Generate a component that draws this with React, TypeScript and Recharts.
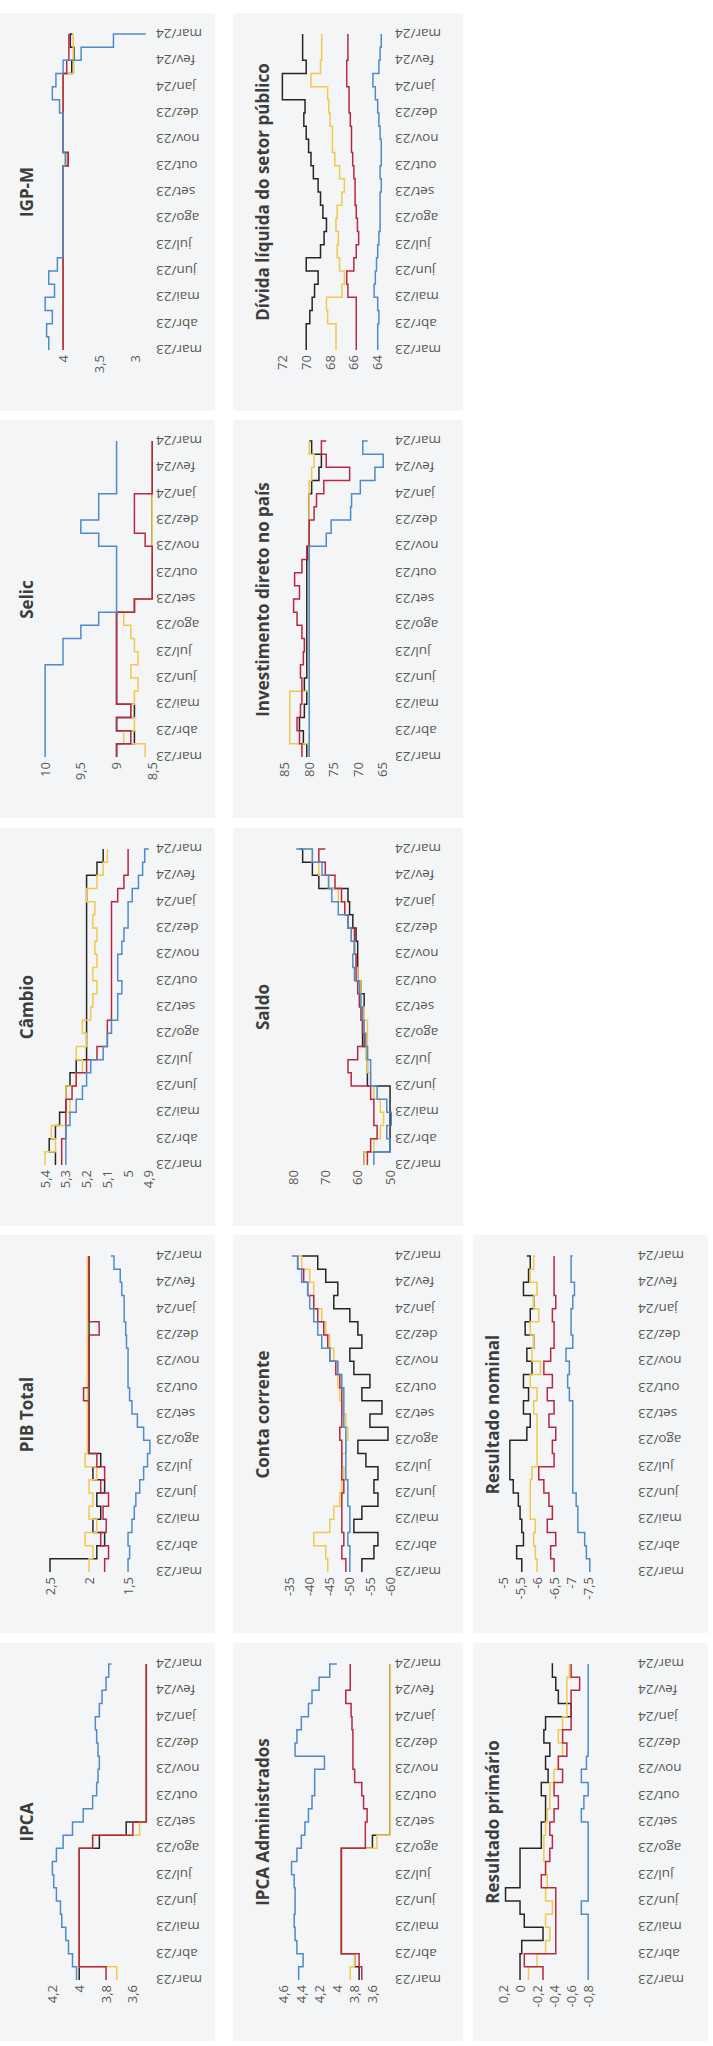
import React from "react";
import { LineChart, Line, XAxis, YAxis } from "recharts";

// rótulos do eixo do tempo (um a cada 2 pontos, pontos quinzenais)
const meses = ["mar/23", "abr/23", "mai/23", "jun/23", "jul/23", "ago/23", "set/23", "out/23", "nov/23", "dez/23", "jan/24", "fev/24", "mar/24"];

// IPCA
const ipcaPreto = [4.0, 4.0, 4.0, 4.0, 4.0, 4.0, 4.0, 4.0, 4.0, 4.0, 3.85, 3.65, 3.5, 3.5, 3.5, 3.5, 3.5, 3.5, 3.5, 3.5, 3.5, 3.5, 3.5, 3.5, 3.5];
const ipcaAmarelo = [3.72, 4.0, 4.0, 4.0, 4.0, 4.0, 4.0, 4.0, 4.0, 4.0, 3.9, 3.55, 3.5, 3.5, 3.5, 3.5, 3.5, 3.5, 3.5, 3.5, 3.5, 3.5, 3.5, 3.5, 3.5];
const ipcaVermelho = [3.8, 4.0, 4.0, 4.0, 4.0, 4.0, 4.0, 4.0, 4.0, 4.0, 3.9, 3.6, 3.5, 3.5, 3.5, 3.5, 3.5, 3.5, 3.5, 3.5, 3.5, 3.5, 3.5, 3.5, 3.5];
const ipcaAzul = [4.02, 4.05, 4.08, 4.1, 4.13, 4.14, 4.17, 4.19, 4.2, 4.17, 4.12, 4.05, 3.97, 3.9, 3.87, 3.86, 3.85, 3.86, 3.87, 3.88, 3.85, 3.83, 3.8, 3.78, 3.76];

// PIB Total
const pibPreto = [2.5, 1.9, 1.8, 1.95, 1.85, 1.9, 1.8, 1.95, 1.85, 2.0, 2.0, 2.0, 2.0, 2.0, 2.0, 2.0, 2.0, 2.0, 2.0, 2.0, 2.0, 2.0, 2.0, 2.0, 2.0];
const pibAmarelo = [2.0, 1.95, 2.05, 1.9, 2.0, 1.95, 2.0, 1.9, 2.05, 2.02, 2.02, 2.02, 2.02, 2.02, 2.02, 2.02, 2.02, 2.02, 2.02, 2.02, 2.02, 2.02, 2.02, 2.02, 2.02];
const pibVermelho = [1.8, 1.75, 1.85, 1.78, 1.82, 1.75, 1.85, 1.8, 1.9, 2.0, 2.0, 2.0, 2.0, 2.07, 2.0, 2.0, 2.0, 2.0, 1.87, 2.0, 2.0, 2.0, 2.0, 2.0, 2.0];
const pibAzul = [1.5, 1.48, 1.5, 1.45, 1.42, 1.4, 1.35, 1.3, 1.25, 1.22, 1.3, 1.38, 1.45, 1.48, 1.5, 1.5, 1.5, 1.52, 1.53, 1.55, 1.55, 1.58, 1.6, 1.68, 1.72];

// Câmbio
const cambioPreto = [5.35, 5.38, 5.35, 5.33, 5.3, 5.3, 5.28, 5.25, 5.2, 5.2, 5.2, 5.2, 5.2, 5.2, 5.2, 5.2, 5.2, 5.2, 5.2, 5.2, 5.2, 5.2, 5.15, 5.12, 5.12];
const cambioAmarelo = [5.4, 5.35, 5.37, 5.3, 5.28, 5.3, 5.25, 5.22, 5.25, 5.2, 5.22, 5.18, 5.17, 5.15, 5.17, 5.15, 5.16, 5.15, 5.17, 5.16, 5.2, 5.15, 5.12, 5.1, 5.1];
const cambioVermelho = [5.32, 5.32, 5.3, 5.3, 5.3, 5.27, 5.25, 5.2, 5.15, 5.1, 5.1, 5.08, 5.08, 5.08, 5.08, 5.08, 5.08, 5.08, 5.08, 5.08, 5.05, 5.02, 5.0, 5.0, 5.0];
const cambioAzul = [5.3, 5.3, 5.3, 5.28, 5.25, 5.22, 5.2, 5.18, 5.12, 5.1, 5.08, 5.05, 5.05, 5.03, 5.05, 5.05, 5.03, 5.02, 5.0, 5.0, 4.98, 4.95, 4.93, 4.92, 4.9];

// Selic
const selicPreto = [9.0, 8.75, 9.0, 8.75, 9.0, 9.0, 9.0, 9.0, 9.0, 9.0, 9.0, 8.75, 8.5, 8.5, 8.5, 8.5, 8.5, 8.5, 8.5, 8.5, 8.5, 8.5, 8.5, 8.5, 8.5];
const selicAmarelo = [8.6, 8.9, 8.75, 8.8, 8.75, 8.7, 8.8, 8.7, 8.75, 8.8, 8.9, 8.75, 8.5, 8.5, 8.5, 8.5, 8.5, 8.5, 8.5, 8.5, 8.5, 8.5, 8.5, 8.5, 8.5];
const selicVermelho = [9.0, 8.8, 9.0, 8.8, 9.0, 9.0, 9.0, 9.0, 9.0, 9.0, 9.0, 8.75, 8.5, 8.5, 8.5, 8.5, 8.6, 8.75, 8.75, 8.75, 8.5, 8.5, 8.5, 8.5, 8.5];
const selicAzul = [10, 10, 10, 10, 10, 10, 10, 9.75, 9.75, 9.5, 9.25, 9.0, 9.0, 9.0, 9.0, 9.0, 9.25, 9.5, 9.25, 9.25, 9.0, 9.0, 9.0, 9.0, 9.0];

// IGP-M
const igpmPreto = [4, 4, 4, 4, 4, 4, 4, 4, 4, 4, 4, 4, 4, 4, 3.93, 4, 4, 4, 4, 4, 4, 3.88, 3.85, 3.9, 3.87];
const igpmAmarelo = [4, 4, 4, 4, 4, 4, 4, 4, 4, 4, 4, 4, 4, 4, 3.95, 4, 4, 4, 4, 4, 4, 3.85, 3.86, 3.86, 3.86];
const igpmVermelho = [4, 4, 4, 4, 4, 4, 4, 4, 4, 4, 4, 4, 4, 4, 3.93, 4, 4, 4, 4, 4, 4, 3.95, 3.92, 3.92, 3.92];
const igpmAzul = [4.2, 4.23, 4.15, 4.25, 4.12, 4.2, 4.08, 4.0, 4.0, 4.0, 4.0, 4.0, 4.0, 4.0, 3.97, 4.0, 4.0, 4.0, 4.05, 4.15, 4.1, 4.0, 3.75, 3.3, 2.85];

// IPCA Administrados
const admPreto = [3.75, 3.8, 3.95, 3.95, 3.95, 3.95, 3.95, 3.95, 3.95, 3.95, 3.6, 3.4, 3.4, 3.4, 3.4, 3.4, 3.4, 3.4, 3.4, 3.4, 3.4, 3.4, 3.4, 3.4, 3.4];
const admAmarelo = [3.85, 3.8, 3.95, 3.95, 3.95, 3.95, 3.95, 3.95, 3.95, 3.95, 3.55, 3.4, 3.4, 3.4, 3.4, 3.4, 3.4, 3.4, 3.4, 3.4, 3.4, 3.4, 3.4, 3.4, 3.4];
const admVermelho = [3.72, 3.75, 3.95, 3.95, 3.95, 3.95, 3.95, 3.95, 3.95, 3.95, 3.68, 3.68, 3.66, 3.7, 3.72, 3.8, 3.82, 3.82, 3.82, 3.83, 3.84, 3.9, 3.85, 3.85, 3.85];
const admAzul = [4.43, 4.38, 4.45, 4.47, 4.48, 4.47, 4.47, 4.48, 4.51, 4.45, 4.4, 4.36, 4.32, 4.28, 4.25, 4.25, 4.14, 4.47, 4.45, 4.4, 4.32, 4.28, 4.2, 4.08, 4.0];

// Conta corrente
const contaPreto = [-53, -56, -57, -51, -53, -57, -56, -57, -54, -52, -59.5, -55, -58, -53, -55, -51, -50, -53, -52, -50, -46, -47, -44, -42, -38];
const contaAmarelo = [-44.5, -44, -41, -45, -46, -47.5, -48, -48.5, -48, -49, -49.5, -49, -48, -47.5, -47, -47, -46, -45, -44, -43, -41, -41, -40, -38, -37];
const contaVermelho = [-49, -48, -48.5, -48, -48, -48, -48.5, -48, -48, -48, -47.5, -48, -48, -48, -47.5, -46.5, -45, -44.5, -43.5, -42, -41, -39.5, -38.5, -37, -37];
const contaAzul = [-50, -50, -49.5, -50, -50, -49.5, -49.5, -49, -49, -49, -49, -48.5, -48.5, -48.5, -48, -47, -45, -43, -42, -41, -40, -39.5, -38, -37, -35.5];

// Saldo
const saldoPreto = [58, 50, 50, 50, 50, 50, 57, 57, 57, 58.5, 58.5, 58.5, 58, 59, 60, 60, 60, 60.5, 61.5, 62.5, 63, 72, 74, 77, 78];
const saldoAmarelo = [58, 55, 53, 52, 53, 55, 56, 57, 57.5, 57, 57, 58, 59, 59, 60, 60.5, 61, 62, 63, 64, 66, 69, 72, 74, 77];
const saldoVermelho = [57, 56, 54, 55, 55, 56, 62, 63, 60, 58, 58.5, 59, 59.5, 60, 60.5, 60.5, 61, 61, 63, 64, 65, 67, 70, 72, 70];
const saldoAzul = [55, 50, 51, 49.5, 51, 54, 56, 56, 57, 57.5, 58, 58.5, 59, 59.5, 61, 61.5, 61, 62, 63, 66, 68, 69, 71, 74, 79];

// Investimento direto no país
const invPreto = [80.5, 81.2, 82, 81, 80.5, 81, 80.5, 80.5, 80.5, 80.5, 80.5, 80.5, 80.5, 80.5, 80.5, 80.3, 80, 80, 80, 80, 79.5, 78, 77.5, 79.5, 80];
const invAmarelo = [80, 84, 84, 84, 84, 80, 80, 80, 80, 80, 80, 80, 80, 80, 80, 80, 80, 80, 80, 80, 80, 79.5, 79, 80, 80];
const invVermelho = [81.5, 82, 82.5, 81.8, 81.5, 81.5, 81.8, 81.2, 81, 81.5, 82.5, 83.2, 82, 83, 81.5, 80.5, 80, 80, 79, 78.5, 77, 71.7, 76.5, 77.5, 76.5];
const invAzul = [80, 80, 80, 80, 80, 80, 80, 80, 80, 80, 80, 80, 80, 80, 80, 80, 76.5, 75.5, 71.5, 71.3, 69.5, 66.5, 64.8, 69, 68];

// Dívida líquida do setor público
const divPreto = [70, 70, 69.7, 69.5, 69.3, 69.0, 70.0, 68.8, 68.5, 68.3, 68.6, 68.8, 69.0, 69.4, 69.6, 69.8, 70.0, 70.2, 70.1, 72, 72, 70, 70.3, 70.3, 70.3];
const divAmarelo = [67.5, 67.5, 68.2, 68.3, 67.0, 66.8, 67.2, 67.4, 67.3, 67.5, 67.4, 67.0, 66.8, 67.2, 67.6, 67.8, 67.8, 68.0, 68.1, 68.2, 69.6, 68.8, 68.7, 68.7, 68.7];
const divVermelho = [65.8, 65.8, 65.8, 65.8, 66.5, 66.6, 66.0, 65.8, 65.6, 65.7, 65.8, 65.9, 65.9, 66.0, 66.1, 66.2, 66.2, 66.3, 66.4, 66.4, 66.6, 66.6, 66.5, 66.5, 66.5];
const divAzul = [64.0, 64.0, 63.9, 64.0, 64.3, 64.2, 64.1, 64.0, 63.9, 63.8, 63.8, 63.8, 63.7, 63.8, 63.7, 63.7, 63.8, 63.9, 64.0, 64.2, 64.4, 63.9, 63.8, 63.7, 63.7];

// Resultado primário
const primPreto = [0, 0, -0.02, -0.27, -0.05, 0, 0.17, 0, 0, 0, -0.25, -0.25, -0.3, -0.3, -0.25, -0.33, -0.3, -0.35, -0.28, -0.3, -0.6, -0.45, -0.42, -0.38, -0.37];
const primAmarelo = [-0.1, -0.2, -0.3, -0.35, -0.3, -0.38, -0.3, -0.32, -0.3, -0.28, -0.28, -0.3, -0.32, -0.35, -0.35, -0.4, -0.45, -0.5, -0.45, -0.5, -0.55, -0.55, -0.55, -0.58, -0.58];
const primVermelho = [-0.27, -0.05, -0.42, -0.42, -0.42, -0.42, -0.42, -0.25, -0.3, -0.35, -0.38, -0.35, -0.4, -0.45, -0.4, -0.5, -0.45, -0.55, -0.5, -0.6, -0.6, -0.6, -0.7, -0.6, -0.6];
const primAzul = [-0.8, -0.8, -0.8, -0.8, -0.8, -0.72, -0.8, -0.8, -0.8, -0.8, -0.8, -0.8, -0.72, -0.75, -0.8, -0.72, -0.78, -0.8, -0.8, -0.8, -0.8, -0.8, -0.8, -0.8, -0.8];

// Resultado nominal
const nomPreto = [-5.55, -5.4, -5.6, -5.55, -5.5, -5.45, -5.3, -5.2, -5.2, -5.2, -5.7, -5.8, -5.6, -5.75, -5.6, -5.85, -5.7, -5.9, -5.65, -5.8, -5.9, -5.6, -5.75, -5.8, -5.7];
const nomAmarelo = [-6, -5.95, -5.9, -5.95, -5.8, -5.8, -5.8, -5.85, -6, -6, -6, -6, -5.9, -6, -5.8, -6.1, -5.85, -5.9, -5.8, -6.05, -5.9, -6, -5.8, -5.9, -5.95];
const nomVermelho = [-6.5, -6.4, -6.55, -6.3, -6.45, -6.35, -6.2, -6.05, -6.5, -6.45, -6.55, -6.35, -6.5, -6.3, -6.45, -6.2, -6.4, -6.5, -6.5, -6.45, -6.55, -6.5, -6.5, -6.5, -6.5];
const nomAzul = [-7.55, -7.45, -7.4, -7.2, -7.2, -7.15, -7.05, -7.05, -7.05, -7.05, -7.05, -7.05, -7.05, -6.95, -6.9, -6.95, -6.85, -7.05, -7.0, -7.0, -7.05, -7.1, -7.0, -7.0, -7.05];

const FONTE = "'Open Sans', 'DejaVu Sans', sans-serif";
const CORES: Record<string, string> = { preto: "#262626", amarelo: "#f0c94e", vermelho: "#b92842", azul: "#4f8bcb" };
const ORDEM = ["preto", "amarelo", "vermelho", "azul"];

// geometria das três faixas (no quadro original, paisagem)
const FAIXAS = [
  { top: 0, h: 215, plotTop: 43, plotBottom: 153, tituloY: 27 },
  { top: 233, h: 230, plotTop: 47, plotBottom: 159, tituloY: 30 },
  { top: 473, h: 235, plotTop: 27, plotBottom: 162, tituloY: 20 },
];

const paineis = [
  { titulo: "IPCA", row: 0, col: 0, dominio: [3.45, 4.27], ticks: [3.6, 3.8, 4, 4.2], s: [ipcaPreto, ipcaAmarelo, ipcaVermelho, ipcaAzul] },
  { titulo: "PIB Total", row: 0, col: 1, dominio: [1.18, 2.59], ticks: [1.5, 2, 2.5], s: [pibPreto, pibAmarelo, pibVermelho, pibAzul] },
  { titulo: "Câmbio", row: 0, col: 2, dominio: [4.88, 5.41], ticks: [4.9, 5, 5.1, 5.2, 5.3, 5.4], s: [cambioPreto, cambioAmarelo, cambioVermelho, cambioAzul] },
  { titulo: "Selic", row: 0, col: 3, dominio: [8.49, 10.03], ticks: [8.5, 9, 9.5, 10], s: [selicPreto, selicAmarelo, selicVermelho, selicAzul] },
  { titulo: "IGP-M", row: 0, col: 4, dominio: [2.75, 4.28], ticks: [3, 3.5, 4], s: [igpmPreto, igpmAmarelo, igpmVermelho, igpmAzul] },
  { titulo: "IPCA Administrados", row: 1, col: 0, dominio: [3.38, 4.64], ticks: [3.6, 3.8, 4, 4.2, 4.4, 4.6], s: [admPreto, admAmarelo, admVermelho, admAzul] },
  { titulo: "Conta corrente", row: 1, col: 1, dominio: [-60.5, -32.6], ticks: [-60, -55, -50, -45, -40, -35], s: [contaPreto, contaAmarelo, contaVermelho, contaAzul] },
  { titulo: "Saldo", row: 1, col: 2, dominio: [49.4, 84], ticks: [50, 60, 70, 80], s: [saldoPreto, saldoAmarelo, saldoVermelho, saldoAzul] },
  { titulo: "Investimento direto no país", row: 1, col: 3, dominio: [63, 86], ticks: [65, 70, 75, 80, 85], s: [invPreto, invAmarelo, invVermelho, invAzul] },
  { titulo: "Dívida líquida do setor público", row: 1, col: 4, dominio: [62.8, 72.2], ticks: [64, 66, 68, 70, 72], s: [divPreto, divAmarelo, divVermelho, divAzul] },
  { titulo: "Resultado primário", row: 2, col: 0, dominio: [-1.35, 0.235], ticks: [-0.8, -0.6, -0.4, -0.2, 0, 0.2], s: [primPreto, primAmarelo, primVermelho, primAzul] },
  { titulo: "Resultado nominal", row: 2, col: 1, dominio: [-8.88, -4.91], ticks: [-7.5, -7, -6.5, -6, -5.5, -5], s: [nomPreto, nomAmarelo, nomVermelho, nomAzul] },
];

const fmt = (v: number) => String(v).replace(".", ",");

const TickMes = (props: any) => {
  const { x, y, payload } = props;
  return (
    <text x={x} y={y} transform={`rotate(-90 ${x} ${y})`} textAnchor="end" dominantBaseline="central"
      fontSize={13.5} fill="#595959" fontFamily={FONTE}>
      {meses[payload.value / 2]}
    </text>
  );
};

function Painel({ p }: { p: any }) {
  const f = FAIXAS[p.row];
  const left = 5 + p.col * 407.5;
  const dados = p.s[3].map((_: number, i: number) => ({
    i, preto: p.s[0][i], amarelo: p.s[1][i], vermelho: p.s[2][i], azul: p.s[3][i],
  }));
  return (
    <div style={{ position: "absolute", left, top: f.top, width: 398, height: f.h, background: "#f4f5f6" }}>
      <LineChart width={398} height={f.h} data={dados} margin={{ top: f.plotTop, right: 21, bottom: 0, left: 0 }}>
        <XAxis type="number" dataKey="i" domain={[0, 24]} ticks={meses.map((_, k) => k * 2)} interval={0}
          axisLine={false} tickLine={false} tickSize={0} tickMargin={3} height={f.h - f.plotBottom} tick={<TickMes />} />
        <YAxis type="number" domain={p.dominio} ticks={p.ticks} allowDataOverflow interval={0} width={61}
          axisLine={false} tickLine={false} tickSize={0} tickMargin={5} tickFormatter={fmt}
          tick={{ fontSize: 13, fill: "#595959", fontFamily: FONTE }} />
        {ORDEM.map((k) => (
          <Line key={k} type="stepAfter" dataKey={k} stroke={CORES[k]} strokeWidth={1.5} dot={false} isAnimationActive={false} />
        ))}
      </LineChart>
      <div style={{
        position: "absolute", left: 61, width: 316, top: f.tituloY - 12, lineHeight: "24px", textAlign: "center",
        fontFamily: FONTE, fontWeight: 700, fontSize: 17, color: "#3d3d3d", whiteSpace: "nowrap",
      }}>
        {p.titulo}
      </div>
    </div>
  );
}

export default function App() {
  return (
    <div style={{ position: "relative", width: 713, height: 2046, overflow: "hidden", background: "#fff" }}>
      <style>{"body{margin:0}"}</style>
      <div style={{
        position: "absolute", left: 0, top: 0, width: 2046, height: 713,
        transformOrigin: "0 0", transform: "translate(0px, 2046px) rotate(-90deg)",
      }}>
        {paineis.map((p) => <Painel key={p.titulo} p={p} />)}
      </div>
    </div>
  );
}
